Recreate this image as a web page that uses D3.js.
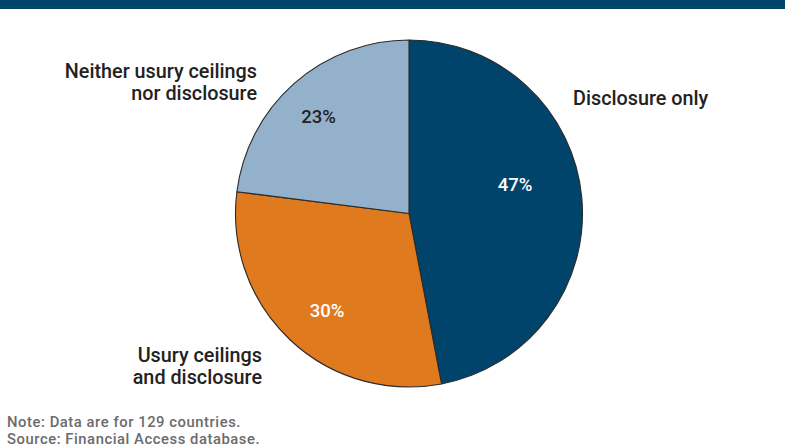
<!DOCTYPE html>
<html>
<head>
<meta charset="utf-8">
<script src="https://cdn.jsdelivr.net/npm/d3@7/dist/d3.min.js"></script>
<style>
  html, body { margin: 0; padding: 0; background: #fff; }
  svg { display: block; font-family: Roboto, "DejaVu Sans", sans-serif; }
</style>
</head>
<body>
<svg id="chart" width="785" height="448"></svg>
<script>
// Shares of countries by regulatory approach (percent)
const categories = ["Disclosure only", "Usury ceilings and disclosure", "Neither usury ceilings nor disclosure"];
const values = [47, 30, 23];
const valueLabels = ["47%", "30%", "23%"];
const categoryLines = [["Disclosure only"], ["Usury ceilings", "and disclosure"], ["Neither usury ceilings", "nor disclosure"]];
const noteLines = ["Note: Data are for 129 countries.", "Source: Financial Access database."];

const colors = ["#00446b", "#e07a1e", "#93b1cb"];
const labelColors = ["#ffffff", "#ffffff", "#222222"];

const W = 785, H = 448;
const cx = 409, cy = 213.5, R = 173.5;

const svg = d3.select("#chart");

// Header band
svg.append("rect").attr("x", 0).attr("y", 0).attr("width", W).attr("height", 9).attr("fill", "#00446b");

const pie = d3.pie().sort(null).value(d => d)(values);
const arc = d3.arc().innerRadius(0).outerRadius(R);

const g = svg.append("g").attr("transform", `translate(${cx},${cy})`);

g.selectAll("path.slice")
  .data(pie)
  .join("path")
  .attr("class", "slice")
  .attr("d", arc)
  .attr("fill", (d, i) => colors[i])
  .attr("stroke", "#2a2a2a")
  .attr("stroke-width", 1.1)
  .attr("stroke-linejoin", "round");

// Percentage labels placed along each slice's bisector, with slight angle/radius tweaks
const labelLayout = [
  { r: 110, shift: -10 },
  { r: 127, shift: -3 },
  { r: 133, shift: -1.5 }
];
g.selectAll("text.pct")
  .data(pie)
  .join("text")
  .attr("class", "pct")
  .each(function (d, i) {
    const a = (d.startAngle + d.endAngle) / 2 + labelLayout[i].shift * Math.PI / 180;
    const r = labelLayout[i].r;
    d3.select(this)
      .attr("x", r * Math.sin(a))
      .attr("y", -r * Math.cos(a));
  })
  .attr("dy", "0.36em")
  .attr("text-anchor", "middle")
  .attr("font-size", 18.5)
  .attr("font-weight", 500)
  .attr("fill", (d, i) => labelColors[i])
  .text((d, i) => valueLabels[i]);

// Category labels outside the pie
const catLayout = [
  { x: 573, y: 105, anchor: "start" },
  { x: 262, y: 362, anchor: "end" },
  { x: 257, y: 78, anchor: "end" }
];
categoryLines.forEach((lines, i) => {
  const t = svg.append("text")
    .attr("x", catLayout[i].x)
    .attr("y", catLayout[i].y)
    .attr("text-anchor", catLayout[i].anchor)
    .attr("font-size", 19.8)
    .attr("font-weight", 500)
    .attr("fill", "#222");
  lines.forEach((ln, j) => {
    t.append("tspan")
      .attr("x", catLayout[i].x)
      .attr("dy", j === 0 ? 0 : 22)
      .text(ln);
  });
});

// Note and source
svg.selectAll("text.note")
  .data(noteLines)
  .join("text")
  .attr("class", "note")
  .attr("x", 7)
  .attr("y", (d, i) => 427 + i * 17)
  .attr("font-size", 14.8)
  .attr("font-weight", 500)
  .attr("letter-spacing", 0.55)
  .attr("fill", "#6b6b6b")
  .text(d => d);
</script>
</body>
</html>
